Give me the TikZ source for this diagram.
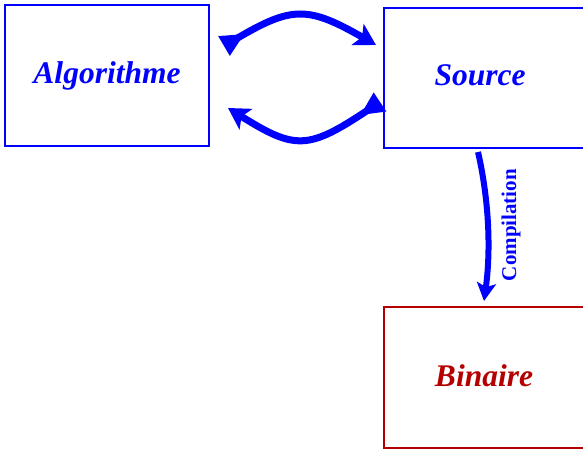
\documentclass[tikz,border=0pt]{standalone}
\usepackage{fontspec}
\setmainfont{Liberation Serif}
\usetikzlibrary{arrows.meta}
\definecolor{myblue}{RGB}{0,0,255}
\definecolor{myred}{RGB}{180,0,0}
\begin{document}
\begin{tikzpicture}[x=1pt,y=-1pt,
  box/.style={draw=myblue,line width=1.5pt,minimum width=204pt,minimum height=141pt,inner sep=0pt},
  lbl/.style={font=\fontsize{31.5}{31.5}\selectfont\bfseries\itshape,text=myblue},
  bigarrow/.style={draw=myblue,line width=7pt,
    {Triangle[reversed,length=24pt,width=21pt]}-{Stealth[length=21pt,width=24pt,inset=5pt]}},
  downarrow/.style={draw=myblue,line width=6pt,-{Stealth[length=18pt,width=19pt,inset=4pt]}}]
\useasboundingbox (0,0) rectangle (583,449);
\node[box] (alg) at (107,75.5) {};
\node[lbl] at (alg.center) {Algorithme};
\node[box,minimum width=204pt,minimum height=140pt] (src) at (486,78) {};
\node[lbl] at (480,75) {Source};
\node[box,draw=myred,minimum width=204pt,minimum height=141pt] (bin) at (486,377.5) {};
\node[lbl,text=myred] at (484,376) {Binaire};
\coordinate (t1) at (224,46);
\coordinate (t2) at (376,45);
\coordinate (b1) at (380,102);
\coordinate (b2) at (228,108);
\coordinate (v1) at (478,152);
\coordinate (v2) at (484,301);
\draw[bigarrow] (t1) .. controls (292,6) and (308,6) .. (t2);
\draw[bigarrow] (b1) .. controls (308,150) and (295,150) .. (b2);
\draw[downarrow] (v1) .. controls (489,200) and (491,250) .. (v2);
\node[rotate=90,font=\fontsize{21}{21}\selectfont\bfseries,text=myblue] (comp) at (511,225) {Compilation};
\end{tikzpicture}
\end{document}
